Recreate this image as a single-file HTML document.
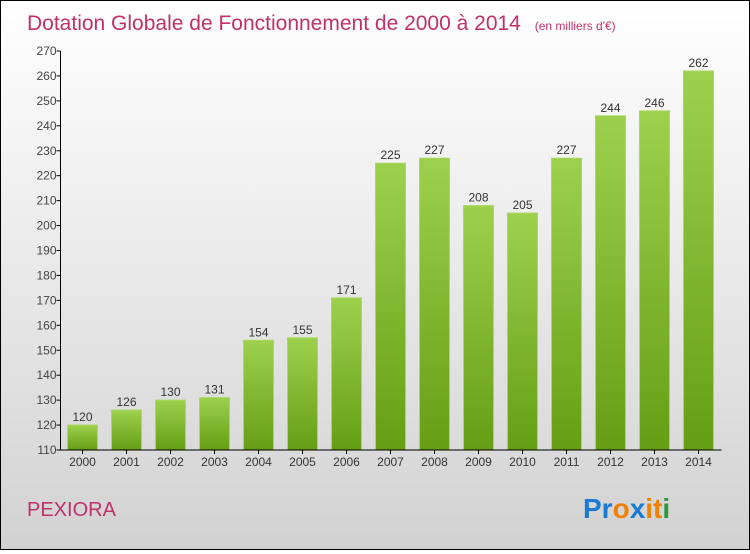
<!DOCTYPE html>
<html><head><meta charset="utf-8"><style>
body{margin:0;width:750px;height:550px;overflow:hidden;font-family:"Liberation Sans",sans-serif}
#c{position:absolute;left:0;top:0;width:748px;height:548px;border:1px solid #000;background:linear-gradient(#ffffff,#d2d2d2)}
</style></head><body>
<div id="c">
<svg width="748" height="548">
<text x="26" y="29" font-size="21" fill="#c0306a">Dotation Globale de Fonctionnement de 2000 à 2014 <tspan font-size="12" dx="8">(en milliers d'€)</tspan></text>
<defs><linearGradient id="g" x1="0" y1="0" x2="0" y2="1"><stop offset="0" stop-color="#9dd14d"/><stop offset="1" stop-color="#659e14"/></linearGradient></defs>
<g id="bars"></g><g id="axes"></g>
<text x="26" y="515" font-size="20" fill="#c0306a">PEXIORA</text>
<g font-size="28" font-weight="bold" font-family="Liberation Sans,sans-serif">
<text x="582" y="517"><tspan fill="#1a7ad4">Pr</tspan><tspan fill="#f08000">o</tspan><tspan fill="#1a7ad4">x</tspan><tspan fill="#f08000">i</tspan><tspan fill="#f08000">t</tspan><tspan fill="#2a9a3a">i</tspan></text></g>
</svg></div>
<script>
const years=["2000","2001","2002","2003","2004","2005","2006","2007","2008","2009","2010","2011","2012","2013","2014"];
const values=[120,126,130,131,154,155,171,225,227,208,205,227,244,246,262];
const yTicks=[110,120,130,140,150,160,170,180,190,200,210,220,230,240,250,260,270];
const ns="http://www.w3.org/2000/svg";
const x0=59.5,band=44,yMin=110,yMax=270,yTop=50,yBot=449;
const y=v=>yBot-(v-yMin)/(yMax-yMin)*(yBot-yTop);
function mk(t,a,p){const e=document.createElementNS(ns,t);for(const k in a)e.setAttribute(k,a[k]);p.appendChild(e);return e;}
const B=document.getElementById('bars'),A=document.getElementById('axes');
values.forEach((v,i)=>{const cx=x0+band*(i+0.5);
const r=mk('rect',{x:cx-15,y:y(v),width:30,height:yBot-y(v),fill:'url(#g)',stroke:'#a8d860','stroke-width':1},B);


const t=mk('text',{x:cx,y:y(v)-4,'text-anchor':'middle','font-size':12,fill:'#333'},B);t.textContent=v;


const xl=mk('text',{x:cx,y:yBot+16,'text-anchor':'middle','font-size':12,fill:'#333'},A);xl.textContent=years[i];


mk('line',{x1:cx,x2:cx,y1:yBot,y2:yBot+4,stroke:'#000'},A);});
yTicks.forEach(v=>{mk('line',{x1:x0-4,x2:x0,y1:y(v),y2:y(v),stroke:'#000'},A);
const t=mk('text',{x:x0-4,y:y(v)+4,'text-anchor':'end','font-size':12,fill:'#444'},A);t.textContent=v;

});
const ya=mk('line',{x1:x0,x2:x0,y1:yTop,y2:yBot,stroke:'#000'},A);


const xa=mk('line',{x1:x0,x2:x0+band*15+1,y1:yBot,y2:yBot,stroke:'#000'},A);


</script></body></html>
